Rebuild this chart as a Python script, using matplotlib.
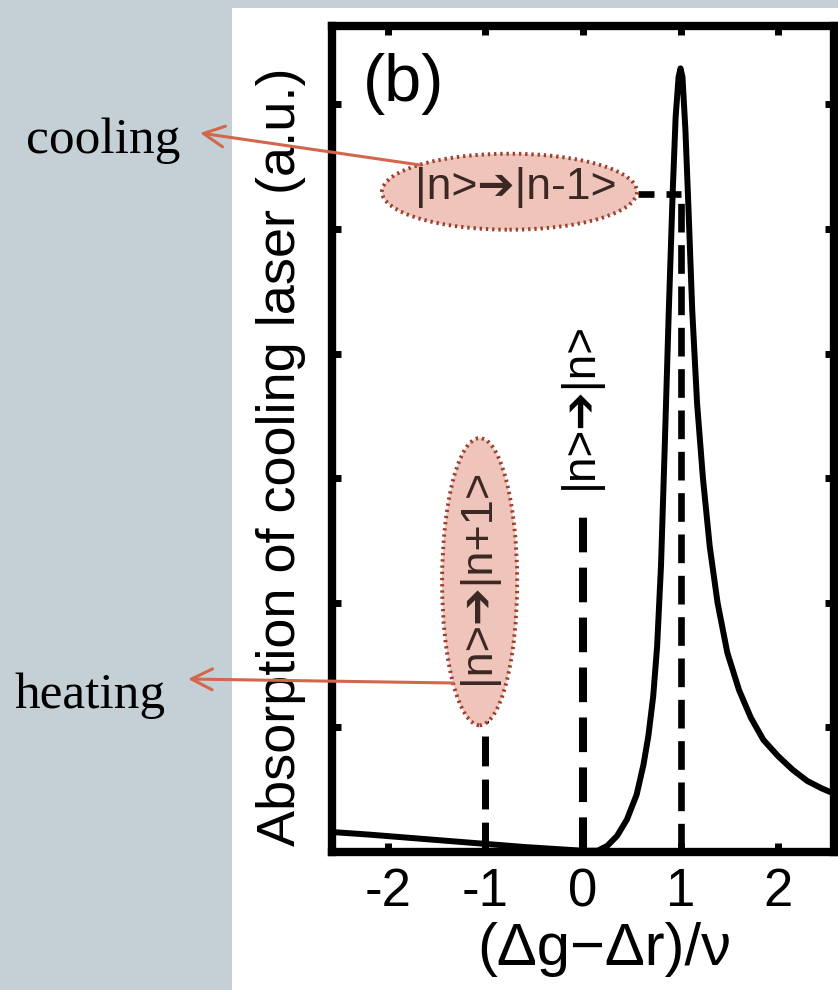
import matplotlib
matplotlib.use("Agg")
import matplotlib.pyplot as plt
from matplotlib.patches import Ellipse, Rectangle

# ---------------- data ----------------
curve_x = [-2.57, -2.2, -1.8, -1.4, -1.0, -0.6, -0.2, 0.0, 0.15, 0.25, 0.35, 0.45,
           0.55, 0.62, 0.67, 0.72, 0.76, 0.80, 0.84, 0.88, 0.92, 0.95, 0.98, 1.0,
           1.02, 1.05, 1.08, 1.12, 1.17, 1.23, 1.30, 1.38, 1.48, 1.60, 1.72, 1.85,
           2.0, 2.15, 2.3, 2.45, 2.57]
curve_y = [0.16, 0.14, 0.115, 0.09, 0.065, 0.04, 0.02, 0.01, 0.01, 0.05, 0.13, 0.26,
           0.46, 0.70, 0.93, 1.25, 1.65, 2.3, 3.3, 4.35, 5.3, 5.9, 6.22, 6.29,
           6.22, 5.8, 5.2, 4.35, 3.6, 3.0, 2.45, 2.0, 1.6, 1.3, 1.08, 0.9,
           0.77, 0.66, 0.57, 0.51, 0.47]

xticks = [-2, -1, 0, 1, 2]
xticklabels = ["-2", "-1", "0", "1", "2"]
yticks = [1, 2, 3, 4, 5, 6]

transition_x = [-1, 0, 1]
transition_top = [1.165, 2.77, 5.285]
transition_labels = ["|n>➔|n+1>", "|n>➔|n>", "|n>➔|n-1>"]

xlabel = "(Δg−Δr)/ν"
ylabel = "Absorption of cooling laser (a.u.)"
panel_label = "(b)"
side_labels = ["cooling", "heating"]

# ---------------- figure ----------------
W, H = 838, 990
fig = plt.figure(figsize=(W / 100, H / 100), dpi=100)
fig.patch.set_facecolor("#c5d0d6")
fig.patches.append(Rectangle((232 / W, 0), 1 - 232 / W, 1 - 8 / H,
                             transform=fig.transFigure, facecolor="white",
                             edgecolor="none", zorder=-10))

def fx(px):
    return px / W

def fy(py):
    return 1 - py / H

ax = fig.add_axes([fx(332), fy(852), fx(834) - fx(332), fy(26) - fy(852)])
ax.set_zorder(1)
ax.set_facecolor("white")
ax.set_xlim(-2.574, 2.574)
ax.set_ylim(0, 6.63)

sans = ["Liberation Sans", "DejaVu Sans"]

# curve
ax.plot(curve_x, curve_y, color="black", lw=4.3, solid_capstyle="round",
        solid_joinstyle="round", zorder=4, clip_on=True)

# dashed transition lines
lws = [5.0, 5.8, 4.8]
for xv, top, lw in zip(transition_x, transition_top, lws):
    ax.plot([xv, xv], [0, top], color="black", lw=lw, dashes=(4.3, 1.9),
            dash_capstyle="butt", zorder=3)
# horizontal dashed connector to |n>->|n-1>
ax.plot([0.564, 1.0], [transition_top[2], transition_top[2]], color="black",
        lw=4.8, dashes=(2.4, 1.8), zorder=3)

# ellipses
pink = "#eec4bb"
edge = "#9c3f2c"
e1 = Ellipse((-0.754, 5.30), 2.615, 0.61, facecolor=pink, edgecolor=edge,
             lw=2.8, linestyle=(0, (0.6, 1.0)), zorder=5)
e2 = Ellipse((-1.06, 2.17), 0.77, 2.305, facecolor=pink, edgecolor=edge,
             lw=2.8, linestyle=(0, (0.6, 1.0)), zorder=5)
ax.add_patch(e1)
ax.add_patch(e2)

txtcol = "#3b2822"
ax.text(-0.687, 5.33, transition_labels[2], fontsize=32, family=sans,
        color=txtcol, ha="center", va="center", zorder=6)
ax.text(-1.077, 2.21, transition_labels[0], fontsize=32.5, family=sans,
        color=txtcol, ha="center", va="center", rotation=90, zorder=6)
ax.text(-0.03, 3.58, transition_labels[1], fontsize=33, family=sans,
        color="black", ha="center", va="center", rotation=90, zorder=6)

# panel label
ax.text(fx(363), fy(84), panel_label, transform=fig.transFigure, fontsize=48,
        family=sans, ha="left", va="center")

# ticks
ax.set_xticks(xticks)
ax.set_xticklabels(xticklabels, fontsize=38, family=sans)
ax.set_yticks(yticks)
ax.set_yticklabels([])
ax.tick_params(axis="both", direction="in", length=6.5, width=5,
               top=True, right=True, pad=11)
for sp in ax.spines.values():
    sp.set_linewidth(6)

ax.set_xlabel(xlabel, fontsize=43, family=sans, labelpad=2)
ax.xaxis.set_label_coords(0.542, -0.085)
ax.set_ylabel(ylabel, fontsize=39, family=sans)
ax.yaxis.set_label_coords((306 - 332) / 502, 0.479)

# side annotations (cooling / heating)
serif = ["Liberation Serif", "DejaVu Serif"]
fig.text(fx(103), fy(153), side_labels[0], fontsize=37, family=serif,
         ha="center", va="baseline")
fig.text(fx(90), fy(708), side_labels[1], fontsize=37, family=serif,
         ha="center", va="baseline")

acol = "#d2674c"
for tip, tail in [((200, 133), (420, 165)), ((188, 679), (453, 683))]:
    ax.annotate("", xy=(fx(tip[0]), fy(tip[1])), xycoords="figure fraction",
                xytext=(fx(tail[0]), fy(tail[1])), textcoords="figure fraction",
                arrowprops=dict(arrowstyle="->,head_length=1.5,head_width=0.75",
                                color=acol, lw=2.2, shrinkA=0, shrinkB=0),
                annotation_clip=False, zorder=7)

fig.savefig("out.png", dpi=100, facecolor=fig.get_facecolor())
